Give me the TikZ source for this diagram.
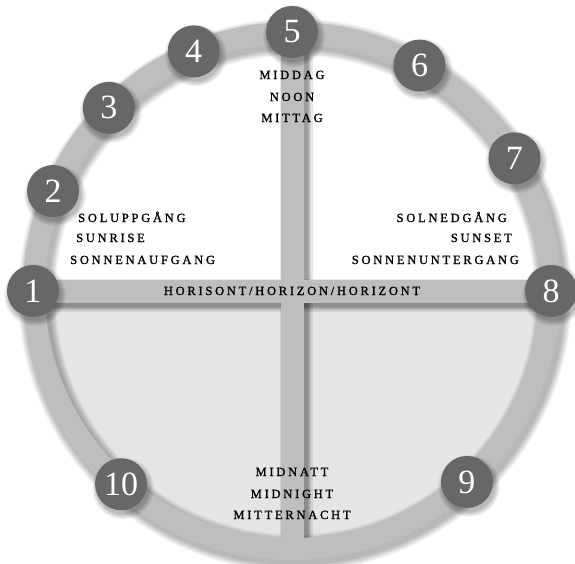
\documentclass[tikz,border=0pt]{standalone}
\usepackage{fontspec}
\setmainfont{Liberation Serif}
\newfontfamily\spacedfont[LetterSpace=22,FakeBold=1.3]{Liberation Serif}
\usetikzlibrary{calc}
\definecolor{ringgray}{RGB}{189,190,192}
\definecolor{numgray}{RGB}{102,103,105}
\definecolor{nightgray}{RGB}{228,229,229}
\pgfdeclarelayer{back}
\pgfsetlayers{back,main}
\begin{document}
\begin{tikzpicture}[x=1pt,y=1pt,
  numbox/.style={circle,fill=numgray,minimum size=52pt,inner sep=0pt,text=white,font=\fontsize{34}{34}\selectfont},
  lbl/.style={font=\spacedfont\fontsize{12.5}{12.5}\selectfont,inner sep=0pt,text=black},
  barline/.style={draw=ringgray,line width=23pt},
  shade/.style={draw=black,opacity=0.05},
  barshade/.style={draw=black,opacity=0.09},
]
\useasboundingbox (-292,-272) rectangle (283,291);
\node[numbox] (n1) at (180:259) {1};
\node[numbox] (n2) at (157.3:259) {2};
\node[numbox] (n3) at (135:259) {3};
\node[numbox] (n4) at (112.3:259) {4};
\node[numbox] (n5) at (90:259) {5};
\node[numbox] (n6) at (60.5:259) {6};
\node[numbox] (n7) at (30.8:259) {7};
\node[numbox] (n8) at (0:259) {8};
\node[numbox] (n9) at (-47.5:259) {9};
\node[numbox] (n10) at (-131.5:258) {10};
\coordinate (bot) at (0,-256);
\node[lbl,anchor=base] (noon1) at (0,212) {MIDDAG};
\node[lbl,anchor=base] (noon2) at (0,190) {NOON};
\node[lbl,anchor=base] (noon3) at (0,169) {MITTAG};
\node[lbl,anchor=base west] (rise1) at (-214,69) {SOLUPPGÅNG};
\node[lbl,anchor=base west] (rise2) at (-216,49) {SUNRISE};
\node[lbl,anchor=base west] (rise3) at (-222,27) {SONNENAUFGANG};
\node[lbl,anchor=base east] (set1) at (215,69) {SOLNEDGÅNG};
\node[lbl,anchor=base east] (set2) at (220,49) {SUNSET};
\node[lbl,anchor=base east] (set3) at (227,27) {SONNENUNTERGANG};
\node[lbl,anchor=base] (hor) at (0,-4) {HORISONT/HORIZON/HORIZONT};
\node[lbl,anchor=base] (mid1) at (0,-185) {MIDNATT};
\node[lbl,anchor=base] (mid2) at (0,-207) {MIDNIGHT};
\node[lbl,anchor=base] (mid3) at (0,-228) {MITTERNACHT};
\begin{pgfonlayer}{back}
\fill[white] (-292,-272) rectangle (283,291);
\fill[nightgray] (-248,0) arc[start angle=180,end angle=360,radius=248] -- cycle;
\foreach \k in {1,...,6} \draw[shade,line width={22pt+2.5pt*\k}] (3,-4) circle[radius=258];
\draw[ringgray,line width=22pt] (0,0) circle[radius=258];
\begin{scope}
  \clip (0,0) circle[radius=247];
  \foreach \k in {0,...,4} {
    \draw[barshade,line width={23pt+2.5pt*\k}] ([shift={(3,-4)}]n1.center) -- ([shift={(3,-4)}]n8.center);
    \draw[barshade,line width={23pt+2.5pt*\k}] ([shift={(4,-3)}]n5.center) -- ([shift={(4,-3)}]bot);
  }
\end{scope}
\draw[barline] (n1.center) -- (n8.center);
\begin{scope}
  \clip (0,0) circle[radius=250];
  \draw[barline] (n5.center) -- (bot);
\end{scope}
\foreach \i in {1,...,10} {
  \foreach \k in {0,...,4} {
    \fill[black,opacity=0.06] ([shift={(2,-4)}]n\i.center) circle[radius={26+1.2*\k}];
  }
}
\end{pgfonlayer}
\end{tikzpicture}
\end{document}
